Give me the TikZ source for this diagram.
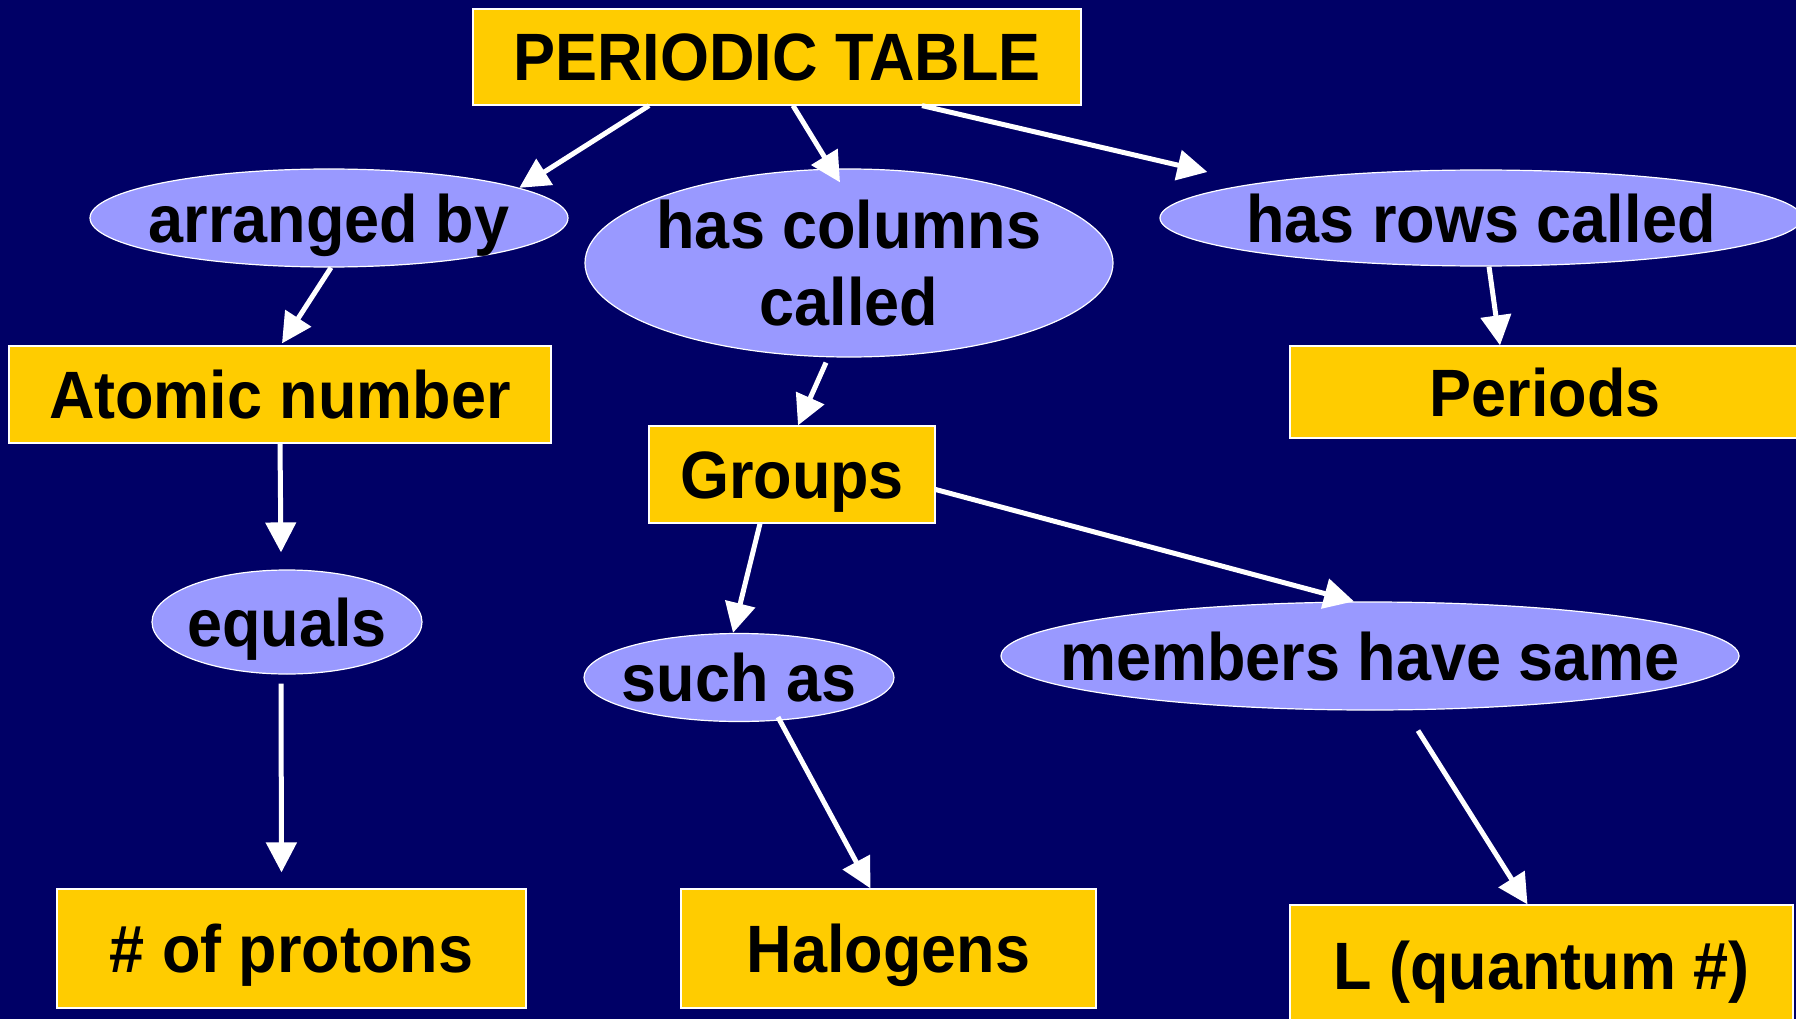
\documentclass[tikz,border=0pt]{standalone}
\usepackage{fontspec}
\setmainfont[FakeStretch=0.94]{Liberation Sans}
\usetikzlibrary{arrows.meta,shapes.geometric}
\definecolor{bg}{HTML}{000066}
\definecolor{boxfill}{HTML}{FFCC00}
\definecolor{ellfill}{HTML}{9999FF}
\begin{document}
\begin{tikzpicture}[x=1pt,y=-1pt,
  box/.style={draw=white, line width=1.2pt, fill=boxfill, inner sep=0pt,
    font=\fontsize{67}{77}\selectfont\bfseries, text=black, text height=48pt, text depth=0pt},
  ell/.style={ellipse, draw=white, line width=1.2pt, fill=ellfill, inner sep=0pt},
  lbl/.style={font=\fontsize{67}{77}\selectfont\bfseries, text=black, inner sep=0pt,
    text height=48pt, text depth=0pt},
  lbltwo/.style={font=\fontsize{67}{77}\selectfont\bfseries, text=black, inner sep=0pt, align=center},
  conn/.style={white, line width=5pt, -{Triangle[length=30pt,width=30pt]}}]
\useasboundingbox (0,0) rectangle (1796,1019);
\clip (0,0) rectangle (1796,1019);
\fill[bg] (0,0) rectangle (1796,1019);
% boxes
\node[box, minimum width=608pt, minimum height=96pt] (pt) at (777,57) {PERIODIC TABLE};
\node[box, minimum width=542pt, minimum height=97pt] (atomic) at (280,394.5) {Atomic number};
\node[box, minimum width=286pt, minimum height=97pt] (groups) at (792,474.5) {Groups};
\node[box, minimum width=510pt, minimum height=92pt] (periods) at (1545,392) {Periods};
\node[box, minimum width=469pt, minimum height=119pt] (protons) at (291.5,948.5) {\# of protons};
\node[box, minimum width=415pt, minimum height=119pt] (halogens) at (888.5,948.5) {Halogens};
\node[box, minimum width=503pt, minimum height=120pt] (lq) at (1541.5,965) {L (quantum \#)};
% ellipses
\node[ell, minimum width=478pt, minimum height=98pt] (arr) at (329,218) {};
\node[ell, minimum width=528pt, minimum height=188pt] (cols) at (849,263) {};
\node[ell, minimum width=642pt, minimum height=96pt] (rows) at (1481,218) {};
\node[ell, minimum width=270pt, minimum height=104pt] (eq) at (287,622) {};
\node[ell, minimum width=310pt, minimum height=88pt] (such) at (739,677.5) {};
\node[ell, minimum width=738pt, minimum height=108pt] (mem) at (1370,656) {};
% ellipse texts
\node[lbl] (arrt) at (arr) {arranged by};
\node[lbltwo] (colst) at (cols) {has columns\\called};
\node[lbl] (rowst) at (rows) {has rows called};
\node[lbl] (eqt) at (eq) {equals};
\node[lbl] (sucht) at (such) {such as};
\node[lbl] (memt) at (mem) {members have same};
% connectors
\draw[conn] ([xshift=-128pt]pt.south) -- (arr.9);
\draw[conn] ([xshift=16pt]pt.south) -- ([shift={(-9pt,-14pt)}]cols.north);
\draw[conn] ([xshift=145pt]pt.south) -- ([shift={(48pt,46pt)}]rows.west);
\draw[conn] ([xshift=2pt]arr.south) -- ([shift={(2pt,2pt)}]atomic.north);
\draw[conn] (atomic.south) -- ([shift={(-6pt,17pt)}]eq.north);
\draw[conn] ([shift={(-6pt,-9pt)}]eq.south) -- ([shift={(-10pt,16pt)}]protons.north);
\draw[conn] ([shift={(-23pt,-5pt)}]cols.south) -- ([xshift=6pt]groups.north);
\draw[conn] ([xshift=8pt]rows.south) -- ([xshift=-45pt]periods.north);
\draw[conn] ([xshift=-32pt]groups.south) -- ([xshift=-6pt]such.north);
\draw[conn] ([yshift=-15pt]groups.east) -- ([xshift=-16pt]mem.north);
\draw[conn] ([shift={(39pt,5pt)}]such.south) -- ([xshift=-18pt]halogens.north);
\draw[conn] ([shift={(48pt,-20pt)}]mem.south) -- ([xshift=-14pt]lq.north);
\end{tikzpicture}
\end{document}
